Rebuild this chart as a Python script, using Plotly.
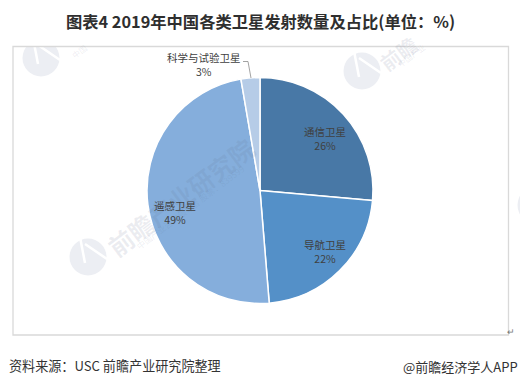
import plotly.graph_objects as go

categories = ["通信卫星", "导航卫星", "遥感卫星", "科学与试验卫星"]
shares = [26.4, 22.3, 48.6, 2.7]
colors = ["#4878a6", "#5490c8", "#85aedc", "#b6cce7"]
title = "图表4 2019年中国各类卫星发射数量及占比(单位：%)"
source = "资料来源：USC 前瞻产业研究院整理"
credit = "@前瞻经济学人APP"
watermark = "前瞻产业研究院"
watermark_sub = "中国产业咨询领导者 股票：839599"

W, H = 520, 386
FONT = "Noto Sans CJK SC, Liberation Sans, sans-serif"

def px(x): return x / W
def py(y): return 1 - y / H

fig = go.Figure(go.Pie(
    labels=categories, values=shares, sort=False, direction="clockwise", rotation=0,
    marker=dict(colors=colors, line=dict(color="white", width=1.5)),
    textinfo="none", hoverinfo="label+percent", showlegend=False,
    domain=dict(x=[px(147), px(373)], y=[py(303.5), py(77.5)]),
))

def note(x, y, text, size, color="#404040", xanchor="center", angle=0):
    return dict(x=px(x), y=py(y), xref="paper", yref="paper", showarrow=False, text=text,
                xanchor=xanchor, yanchor="middle", align="center", textangle=angle,
                font=dict(size=size, color=color, family=FONT))

WM = "rgba(100,110,140,0.12)"
ann = [
    note(180, 197, f"<b>{watermark}</b>", 25, WM, angle=-37),
    note(190, 207, watermark_sub, 8.5, WM, angle=-37),
    note(398, 53, f"<b>{watermark[:2]}</b>", 20, WM, angle=-37),
    note(411, 55, watermark_sub[:4], 8, WM, angle=-37),
    note(79, 51, watermark_sub[:2], 8, WM, angle=-37),
]
label_pos = [(325, 139), (325, 251), (175, 213), (204, 64)]
for c, v, (x, y) in zip(categories, shares, label_pos):
    ann.append(note(x, y, f"{c}<br>{round(v)}%", 10.5))
ann += [
    note(260, 21, f"<b>{title}</b>", 16.3, "#2f2f2f"),
    note(7, 365, source, 13.1, "#333333", xanchor="left"),
    note(520, 366, credit, 13, "#333333", xanchor="right"),
    note(511, 331, "↵", 9, "#777777"),
]

def logo(cx, cy, r=18.5):
    wm = [dict(type="circle", xref="paper", yref="paper", layer="below", line_width=0,
               fillcolor="#eceef3", x0=px(cx - r), x1=px(cx + r), y0=py(cy + r), y1=py(cy - r))]
    for (a, b, c, d, w) in [(-8, -20, -3, 6, 2.5), (-3, -13, 19, 2, 2.5)]:
        wm.append(dict(type="line", xref="paper", yref="paper", layer="below",
                       line=dict(color="white", width=w),
                       x0=px(cx + a), y0=py(cy + b), x1=px(cx + c), y1=py(cy + d)))
    return wm

shapes = logo(41, 58) + logo(362, 71) + logo(88, 257) + logo(536, 205)
shapes += [
    # mask anything of the top-left logo above the frame
    dict(type="rect", xref="paper", yref="paper", layer="below", fillcolor="white", line_width=0,
         x0=px(13), x1=px(70), y0=py(46), y1=py(30)),
    dict(type="rect", xref="paper", yref="paper", layer="below", fillcolor="rgba(0,0,0,0)",
         line=dict(color="#d9d9d9", width=1.3), x0=px(13), x1=px(508.5), y0=py(335), y1=py(46.5)),
    dict(type="path", xref="paper", yref="paper", layer="above", line=dict(color="#8c8c8c", width=0.8),
         path=f"M {px(243)} {py(61.5)} L {px(248)} {py(61.5)} L {px(251)} {py(78)}"),
]

fig.update_layout(width=W, height=H, margin=dict(l=0, r=0, t=0, b=0),
                  paper_bgcolor="white", annotations=ann, shapes=shapes)
fig.write_html("out.html", config=dict(displayModeBar=False),
               post_script="document.body.style.margin='0';document.body.style.overflow='hidden';")
